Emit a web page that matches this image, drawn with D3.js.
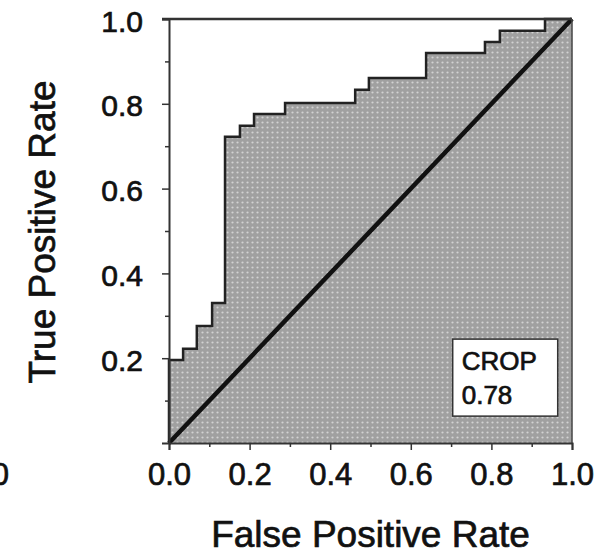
<!DOCTYPE html>
<html>
<head>
<meta charset="utf-8">
<script src="https://cdn.jsdelivr.net/npm/d3@7"></script>
<style>
  body { margin: 0; background: #fff; }
  text { font-family: "Liberation Sans", Arial, sans-serif; fill: #111; stroke: #111; stroke-width: 0.7px; }
</style>
</head>
<body>
<div class="chart"></div>
<script>
// ROC step points: at each FPR the TPR jumps up
var fpr = [0, 0, 0.035, 0.069, 0.107, 0.139, 0.176, 0.211, 0.288, 0.462, 0.496, 0.638, 0.784, 0.821, 0.933, 1.0];
var tpr = [0, 0.196, 0.222, 0.276, 0.330, 0.722, 0.748, 0.776, 0.802, 0.833, 0.861, 0.920, 0.946, 0.972, 1.0, 1.0];
var xTicks = [0, 0.2, 0.4, 0.6, 0.8, 1.0];
var yTicks = [0.2, 0.4, 0.6, 0.8, 1.0];
var minorTicks = [0.1, 0.3, 0.5, 0.7, 0.9];
var labelName = "CROP";
var labelValue = "0.78";

var points = fpr.map((d, i) => ({ x: d, y: tpr[i] }));

var width = 600, height = 558;
var margin = { top: 19, right: 28, bottom: 115, left: 169 };

var svg = d3.select(".chart").append("svg")
  .attr("width", width)
  .attr("height", height);

var xScale = d3.scaleLinear().domain([0, 1]).range([margin.left, width - margin.right]);
var yScale = d3.scaleLinear().domain([0, 1]).range([height - margin.bottom, margin.top]);

// halftone-like grey fill
var defs = svg.append("defs");
var pat = defs.append("pattern")
  .attr("id", "dots")
  .attr("width", 5)
  .attr("height", 5)
  .attr("patternUnits", "userSpaceOnUse");
pat.append("rect").attr("width", 5).attr("height", 5).attr("fill", "#a0a0a0");
pat.append("circle").attr("cx", 2.5).attr("cy", 2.5).attr("r", 1.1).attr("fill", "#d2d2d2");

// area under the ROC curve
var area = d3.area()
  .curve(d3.curveStepAfter)
  .x(d => xScale(d.x))
  .y0(yScale(0))
  .y1(d => yScale(d.y));

svg.append("path")
  .datum(points)
  .attr("fill", "url(#dots)")
  .attr("d", area);

// step curve
var line = d3.line()
  .curve(d3.curveStepAfter)
  .x(d => xScale(d.x))
  .y(d => yScale(d.y));

svg.append("path")
  .datum(points)
  .attr("fill", "none")
  .attr("stroke", "#222")
  .attr("stroke-width", 2.5)
  .attr("d", line);

// chance diagonal
svg.append("line")
  .attr("x1", xScale(0)).attr("y1", yScale(0))
  .attr("x2", xScale(1)).attr("y2", yScale(1))
  .attr("stroke", "#111")
  .attr("stroke-width", 4.5);

// frame top and right
svg.append("line")
  .attr("x1", xScale(0) - 7).attr("y1", yScale(1))
  .attr("x2", xScale(1)).attr("y2", yScale(1))
  .attr("stroke", "#333").attr("stroke-width", 2.5);
svg.append("line")
  .attr("x1", xScale(1)).attr("y1", yScale(1))
  .attr("x2", xScale(1)).attr("y2", yScale(0))
  .attr("stroke", "#444").attr("stroke-width", 1.5);

// x axis
var xAxis = svg.append("g")
  .attr("transform", "translate(0," + yScale(0) + ")")
  .call(d3.axisBottom(xScale).tickValues(xTicks).tickSize(7).tickFormat(d3.format(".1f")));
svg.append("g")
  .attr("transform", "translate(0," + yScale(0) + ")")
  .call(d3.axisBottom(xScale).tickValues(minorTicks).tickSize(4).tickFormat(""))
  .select(".domain").remove();

// y axis
var yAxis = svg.append("g")
  .attr("transform", "translate(" + xScale(0) + ",0)")
  .call(d3.axisLeft(yScale).tickValues(yTicks).tickSize(7).tickFormat(d3.format(".1f")));
svg.append("g")
  .attr("transform", "translate(" + xScale(0) + ",0)")
  .call(d3.axisLeft(yScale).tickValues(minorTicks).tickSize(4).tickFormat(""))
  .select(".domain").remove();

svg.selectAll(".domain").attr("stroke", "#333").attr("stroke-width", 2);
svg.selectAll(".tick line").attr("stroke", "#333").attr("stroke-width", 1.5);

xAxis.selectAll("text")
  .attr("y", 42)
  .attr("dy", 0)
  .style("font-size", "31px")
  .style("font-family", "Liberation Sans, Arial, sans-serif")
  .attr("fill", "#111");

yAxis.selectAll("text")
  .attr("x", -26)
  .attr("dy", "0.4em")
  .style("font-size", "30px")
  .style("font-family", "Liberation Sans, Arial, sans-serif")
  .attr("fill", "#111");

// AUC label box
var bx = xScale(0.704), by = yScale(0.245);
var box = svg.append("g").attr("transform", "translate(" + bx + "," + by + ")");
box.append("rect")
  .attr("width", 105)
  .attr("height", 77)
  .attr("fill", "#fff")
  .attr("stroke", "#333")
  .attr("stroke-width", 1.5);
box.append("text")
  .attr("x", 9)
  .attr("y", 31)
  .style("font-size", "26px")
  .text(labelName);
box.append("text")
  .attr("x", 9)
  .attr("y", 65)
  .style("font-size", "26px")
  .text(labelValue);

// axis titles
svg.append("text")
  .attr("x", (xScale(0) + xScale(1)) / 2)
  .attr("y", 547)
  .attr("text-anchor", "middle")
  .style("font-size", "37px")
  .text("False Positive Rate");

svg.append("text")
  .attr("transform", "rotate(-90)")
  .attr("x", -232)
  .attr("y", 55)
  .attr("text-anchor", "middle")
  .style("font-size", "37px")
  .text("True Positive Rate");

// edge of the neighbouring panel's tick label
svg.append("text")
  .attr("x", 9)
  .attr("y", 485)
  .attr("text-anchor", "end")
  .style("font-size", "31px")
  .text("1.0");
</script>
</body>
</html>
